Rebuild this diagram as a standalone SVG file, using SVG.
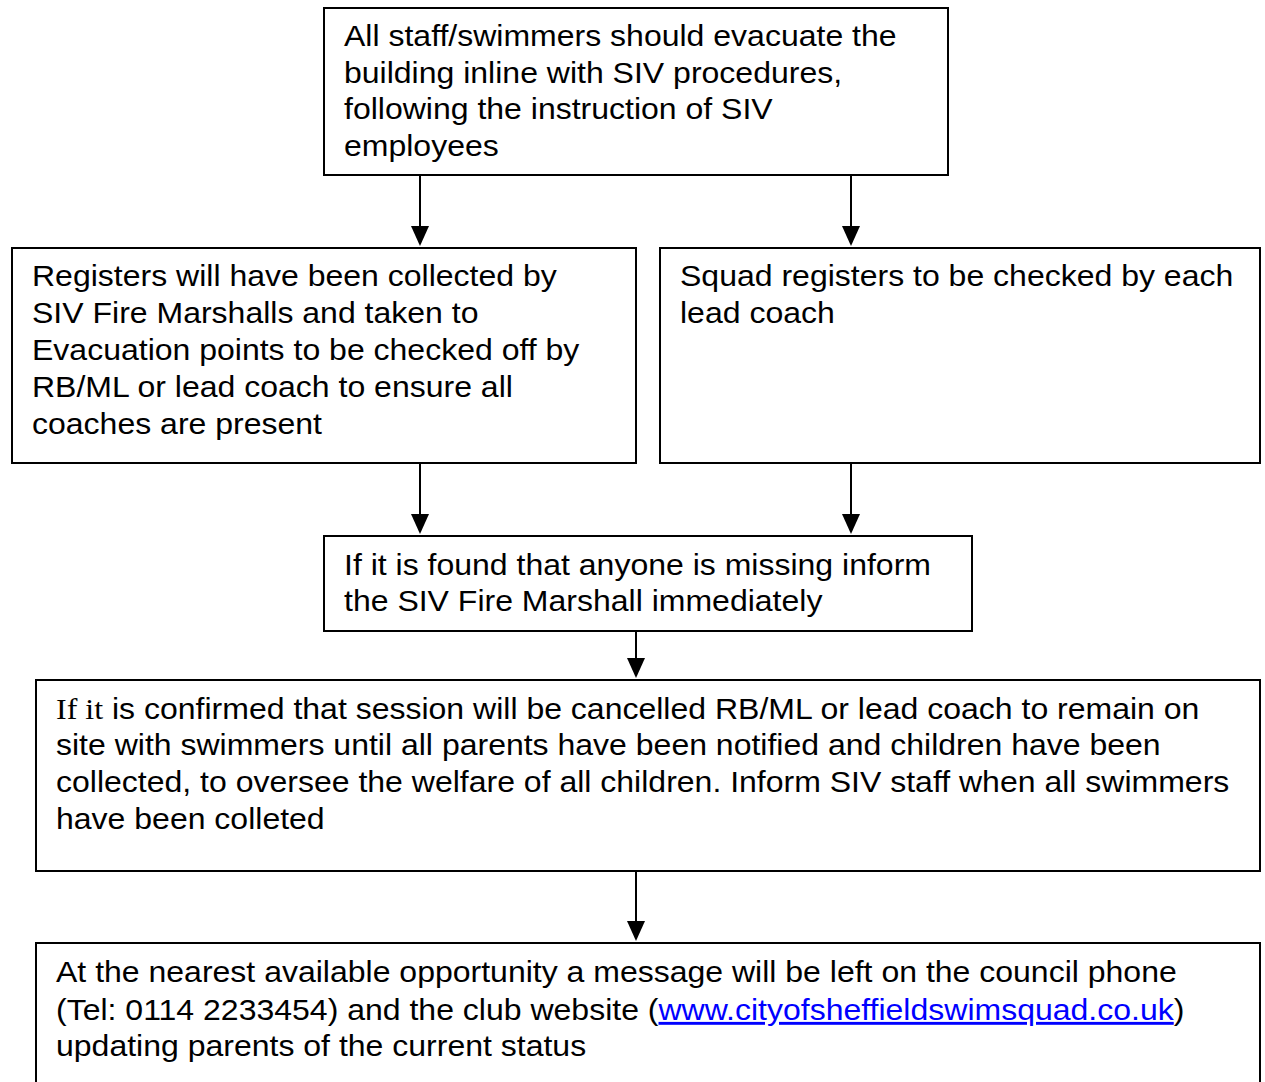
<svg xmlns="http://www.w3.org/2000/svg" width="1265" height="1082" viewBox="0 0 1265 1082">
<style>
.box{fill:#fff;stroke:#000;stroke-width:2}
.t{font-family:"Liberation Sans",Arial,sans-serif;font-size:29px;fill:#000}
.serif{font-family:"Liberation Serif","Times New Roman",serif}
.link{fill:#0000ff;text-decoration:underline}
.c{stroke:#000;stroke-width:2;fill:none}
</style>
<rect width="1265" height="1082" fill="#fff"/>
<g id="connectors">
<line class="c" x1="420" y1="175" x2="420" y2="226"/><path d="M411,226 L429,226 L420,246 Z"/>
<line class="c" x1="851" y1="175" x2="851" y2="226"/><path d="M842,226 L860,226 L851,246 Z"/>
<line class="c" x1="420" y1="463" x2="420" y2="514"/><path d="M411,514 L429,514 L420,534 Z"/>
<line class="c" x1="851" y1="463" x2="851" y2="514"/><path d="M842,514 L860,514 L851,534 Z"/>
<line class="c" x1="636" y1="631" x2="636" y2="658"/><path d="M627,658 L645,658 L636,678 Z"/>
<line class="c" x1="636" y1="871" x2="636" y2="921"/><path d="M627,921 L645,921 L636,941 Z"/>
</g>
<g id="n1">
<rect class="box" x="324" y="8" width="624" height="167"/>
<g transform="translate(344,0) scale(1.104,1)">
<text class="t" x="0" y="46">All staff/swimmers should evacuate the</text>
<text class="t" x="0" y="83">building inline with SIV procedures,</text>
<text class="t" x="0" y="119">following the instruction of SIV</text>
<text class="t" x="0" y="156">employees</text>
</g>
</g>
<g id="n2">
<rect class="box" x="12" y="248" width="624" height="215"/>
<g transform="translate(32,0) scale(1.104,1)">
<text class="t" x="0" y="286">Registers will have been collected by</text>
<text class="t" x="0" y="323">SIV Fire Marshalls and taken to</text>
<text class="t" x="0" y="360">Evacuation points to be checked off by</text>
<text class="t" x="0" y="397">RB/ML or lead coach to ensure all</text>
<text class="t" x="0" y="434">coaches are present</text>
</g>
</g>
<g id="n3">
<rect class="box" x="660" y="248" width="600" height="215"/>
<g transform="translate(680,0) scale(1.104,1)">
<text class="t" x="0" y="286">Squad registers to be checked by each</text>
<text class="t" x="0" y="323">lead coach</text>
</g>
</g>
<g id="n4">
<rect class="box" x="324" y="536" width="648" height="95"/>
<g transform="translate(344,0) scale(1.104,1)">
<text class="t" x="0" y="575">If it is found that anyone is missing inform</text>
<text class="t" x="0" y="611">the SIV Fire Marshall immediately</text>
</g>
</g>
<g id="n5">
<rect class="box" x="36" y="680" width="1224" height="191"/>
<g transform="translate(56,0) scale(1.104,1)">
<text class="t" x="0" y="719"><tspan class="serif">If it</tspan> is confirmed that session will be cancelled RB/ML or lead coach to remain on</text>
<text class="t" x="0" y="755">site with swimmers until all parents have been notified and children have been</text>
<text class="t" x="0" y="792">collected, to oversee the welfare of all children. Inform SIV staff when all swimmers</text>
<text class="t" x="0" y="829">have been colleted</text>
</g>
</g>
<g id="n6">
<rect class="box" x="36" y="943" width="1224" height="160"/>
<g transform="translate(56,0) scale(1.104,1)">
<text class="t" x="0" y="982">At the nearest available opportunity a message will be left on the council phone</text>
<text class="t" x="0" y="1020">(Tel: 0114 2233454) and the club website (<tspan class="link">www.cityofsheffieldswimsquad.co.uk</tspan>)</text>
<text class="t" x="0" y="1056">updating parents of the current status</text>
</g>
</g>
</svg>
